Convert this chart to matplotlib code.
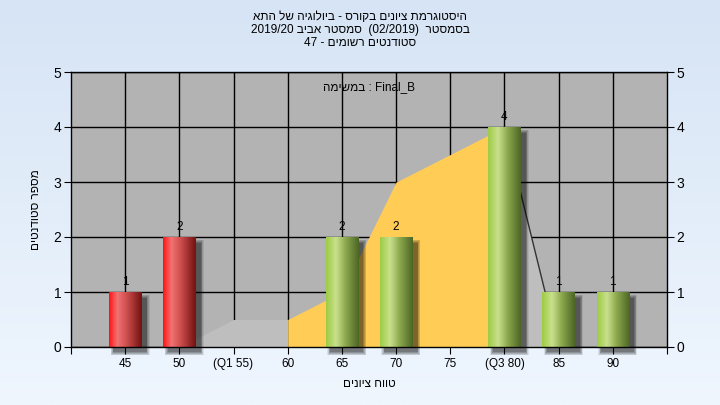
import numpy as np
import matplotlib
matplotlib.use("Agg")
import matplotlib.pyplot as plt
from matplotlib.patches import Rectangle
from matplotlib.colors import LinearSegmentedColormap

plt.rcParams['font.family'] = ['Liberation Sans', 'DejaVu Sans']

# ---------------- data ----------------
tick_labels = ["45", "50", "(Q1 55)", "60", "65", "70", "75", "(Q3 80)", "85", "90"]
counts = [1, 2, 0, 0, 2, 2, 0, 4, 1, 1]
bar_colors = ["red", "red", "green", "green", "green", "green", "green", "green", "green", "green"]
area_values = [0, 0, 0.5, 0.5, 1, 3, 3.5, 4, 0, 0]
title_lines = ["היסטוגרמת ציונים בקורס - ביולוגיה של התא",
               "בסמסטר  (02/2019)  סמסטר אביב 2019/20",
               "סטודנטים רשומים - 47"]
note_text = "Final_B : במשימה"
xlabel = "טווח ציונים"
ylabel = "מספר סטודנטים"


def vis(s):
    """Simple visual reordering for an RTL paragraph."""
    toks = s.split(' ')
    out = []
    for t in reversed(toks):
        if any('\u0590' <= c <= '\u05ff' for c in t):
            out.append(t[::-1])
        else:
            out.append(t)
    return ' '.join(out)


fig = plt.figure(figsize=(7.2, 4.05), dpi=100)

# background gradient
bg = fig.add_axes([0, 0, 1, 1], zorder=-10)
grad = np.linspace(0, 1, 256).reshape(-1, 1)
top = np.array([214, 228, 245]) / 255
bot = np.array([239, 246, 254]) / 255
img = top[None, None, :] * (1 - grad[:, :, None]) + bot[None, None, :] * grad[:, :, None]
bg.imshow(img, aspect='auto', extent=[0, 1, 0, 1])
bg.axis('off')

ax = fig.add_axes([71 / 720, 58 / 405, 596 / 720, 275 / 405])
ax.set_facecolor('#B3B3B3')
x = np.arange(len(counts))
ax.set_xlim(-1, len(counts))
ax.set_ylim(0, 5)

# grid
for yv in range(0, 6):
    ax.axhline(yv, color='black', lw=1.0, zorder=1)
for xv in x:
    ax.axvline(xv, color='black', lw=1.0, zorder=1)

# area
xa = np.array(x, dtype=float)
ya = np.array(area_values, dtype=float)
ax.fill_between(xa[:4], 0, ya[:4], color='#BEBEBE', lw=0, zorder=2)
ax.fill_between(xa[3:8], 0, ya[3:8], color='#FFCC55', lw=0, zorder=2)
ax.fill_between(xa[7:], 0, ya[7:], color='#BEBEBE', lw=0, zorder=2)
ax.plot(xa[7:9], ya[7:9], color='#333333', lw=1.0, zorder=2.5)

# bars
w = 0.6
bars = ax.bar(x, counts, width=w, color='none', edgecolor='none', zorder=4)
red_cmap = LinearSegmentedColormap.from_list('r', [(0, (1.0, 0.08, 0.08)), (0.25, (0.95, 0.45, 0.45)),
                                                   (0.55, (0.80, 0.30, 0.30)), (1, (0.45, 0.07, 0.07))])
grn_cmap = LinearSegmentedColormap.from_list('g', [(0, (0.62, 0.80, 0.27)), (0.3, (0.79, 0.88, 0.55)),
                                                   (0.6, (0.55, 0.66, 0.30)), (1, (0.30, 0.40, 0.15))])
gline = np.linspace(0, 1, 64).reshape(1, -1)
for b, c, col in zip(bars, counts, bar_colors):
    if c <= 0:
        continue
    x0 = b.get_x()
    # shadow
    for k, a in enumerate([0.08, 0.10, 0.13, 0.16, 0.18]):
        e = 0.06 - k * 0.013
        ax.add_patch(Rectangle((x0 + 0.09 - e, -0.09 - e), w + 2 * e, c + 2 * e - 0.02,
                               color='black', alpha=a, lw=0, zorder=3, clip_on=False))
    cmap = red_cmap if col == 'red' else grn_cmap
    ax.imshow(gline, cmap=cmap, aspect='auto', extent=[x0, x0 + w, 0, c], zorder=4,
              interpolation='bilinear')
    ax.text(b.get_x() + w / 2, c + 0.08, str(c), ha='center', va='bottom', fontsize=8.5, zorder=5)

ax.set_xlim(-1, len(counts))
ax.set_ylim(0, 5)

# ticks
ax.set_xticks(list(range(-1, len(counts) + 1)))
ax.set_xticklabels([''] + tick_labels + [''], fontsize=8.5)
ax.set_yticks(range(6))
ax.tick_params(axis='y', labelsize=10, length=5, color='black', direction='out',
               left=True, right=True, labelleft=True, labelright=True, pad=2)
ax.tick_params(axis='x', length=5, color='black', direction='out', pad=3)
for s in ax.spines.values():
    s.set_color('black')
    s.set_linewidth(1)
    s.set_zorder(6)

ax.set_xlabel(vis(xlabel), fontsize=8.5, labelpad=6)
ax.set_ylabel(vis(ylabel), fontsize=8.5)
ax.yaxis.set_label_coords(-29 / 596, 0.5)

ax.text(0.5, 0.968, vis(note_text), transform=ax.transAxes, ha='center', va='top', fontsize=8.5, zorder=7)

for i, line in enumerate(title_lines):
    fig.text(0.5, 1 - (17 + 13 * i) / 405, vis(line), ha='center', va='center', fontsize=8.5)

fig.savefig('out.png', dpi=100, facecolor=fig.get_facecolor())
